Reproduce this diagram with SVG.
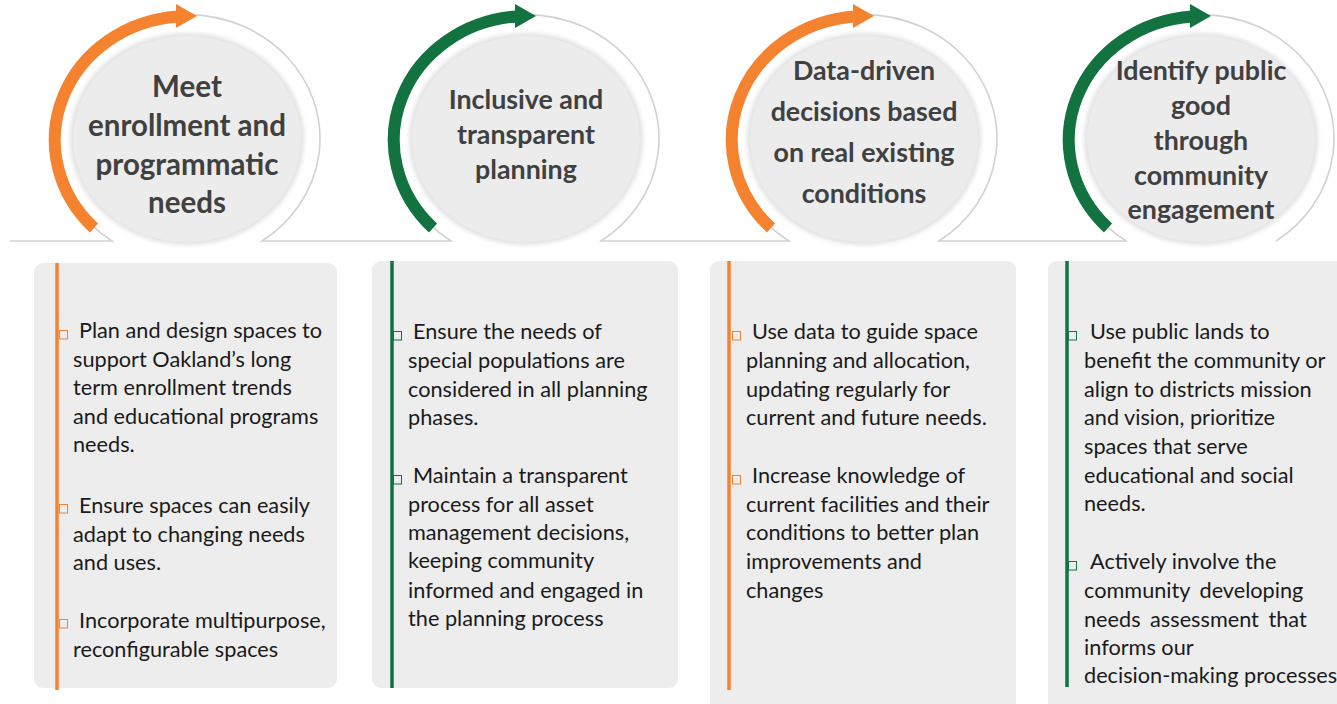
<svg xmlns="http://www.w3.org/2000/svg" width="1337" height="704" viewBox="0 0 1337 704">
<style>
.ring{fill:none;stroke:#d2d2d2;stroke-width:1.6}
.fillc{fill:#ececec}
.title{font-family:Lato,"Open Sans",sans-serif;font-weight:bold;fill:#404040;text-anchor:middle}
.box{fill:#ededed}
.body{font-family:Lato,"Open Sans",sans-serif;font-size:21.7px;fill:#1a1a1a}
.arcO{fill:none;stroke:#F5822F;stroke-width:12}
.arcG{fill:none;stroke:#127340;stroke-width:12}
.bO{fill:none;stroke:#F5822F;stroke-width:1}
.bG{fill:none;stroke:#127340;stroke-width:1}
</style>
<defs>
<filter id="soft" x="-10%" y="-10%" width="120%" height="120%">
<feGaussianBlur stdDeviation="2"/>
</filter>
</defs>
<rect width="1337" height="704" fill="#ffffff"/>

<g id="connectors">
<path class="ring" d="M10 241 H112 A133 124 0 1 1 262 241 H451 A133 124 0 1 1 601 241 H789 A133 124 0 1 1 939 241 H1126 A133 124 0 1 1 1276 241"/>
</g>

<g id="node1">
<ellipse cx="187" cy="139" rx="117" ry="106" fill="#e2e2e2" filter="url(#soft)"/>
<ellipse class="fillc" cx="187" cy="139" rx="114" ry="103"/>
<path class="arcO" d="M94 228 A133 124 0 0 1 178 16.4"/>
<polygon points="176,4 197,16 176,28" fill="#F5822F"/>
<text class="title" font-size="29.5"><tspan x="187" y="97">Meet</tspan><tspan x="187" y="136">enrollment and</tspan><tspan x="187" y="175">programmatic</tspan><tspan x="187" y="213">needs</tspan></text>
</g>

<g id="node2">
<ellipse cx="526" cy="139" rx="117" ry="106" fill="#e2e2e2" filter="url(#soft)"/>
<ellipse class="fillc" cx="526" cy="139" rx="114" ry="103"/>
<path class="arcG" d="M433 228 A133 124 0 0 1 517 16.4"/>
<polygon points="515,4 536,16 515,28" fill="#127340"/>
<text class="title" font-size="26.8"><tspan x="526" y="109">Inclusive and</tspan><tspan x="526" y="144">transparent</tspan><tspan x="526" y="179">planning</tspan></text>
</g>

<g id="node3">
<ellipse cx="864" cy="139" rx="117" ry="106" fill="#e2e2e2" filter="url(#soft)"/>
<ellipse class="fillc" cx="864" cy="139" rx="114" ry="103"/>
<path class="arcO" d="M771 228 A133 124 0 0 1 855 16.4"/>
<polygon points="853,4 874,16 853,28" fill="#F5822F"/>
<text class="title" font-size="26.8"><tspan x="864" y="80">Data-driven</tspan><tspan x="864" y="121">decisions based</tspan><tspan x="864" y="162">on real existing</tspan><tspan x="864" y="203">conditions</tspan></text>
</g>

<g id="node4">
<ellipse cx="1201" cy="139" rx="117" ry="106" fill="#e2e2e2" filter="url(#soft)"/>
<ellipse class="fillc" cx="1201" cy="139" rx="114" ry="103"/>
<path class="arcG" d="M1108 228 A133 124 0 0 1 1192 16.4"/>
<polygon points="1190,4 1211,16 1190,28" fill="#127340"/>
<text class="title" font-size="26.8"><tspan x="1201" y="80">Identify public</tspan><tspan x="1201" y="115">good</tspan><tspan x="1201" y="150">through</tspan><tspan x="1201" y="185">community</tspan><tspan x="1201" y="219">engagement</tspan></text>
</g>

<g id="box1">
<rect class="box" x="34" y="263" width="303" height="425" rx="9"/>
<line x1="57" y1="263" x2="57" y2="690" stroke="#F5822F" stroke-width="3.5"/>
<rect class="bO" x="59.5" y="330.5" width="8" height="8.5"/>
<rect class="bO" x="59.5" y="504.5" width="8" height="8.5"/>
<rect class="bO" x="59.5" y="619.5" width="8" height="8.5"/>
<text class="body"><tspan x="79" y="338">Plan and design spaces to</tspan><tspan x="73" y="367">support Oakland’s long</tspan><tspan x="73" y="395">term enrollment trends</tspan><tspan x="73" y="424">and educational programs</tspan><tspan x="73" y="452">needs.</tspan><tspan x="79" y="513">Ensure spaces can easily</tspan><tspan x="73" y="542">adapt to changing needs</tspan><tspan x="73" y="570">and uses.</tspan><tspan x="79" y="628">Incorporate multipurpose,</tspan><tspan x="73" y="657">reconfigurable spaces</tspan></text>
</g>

<g id="box2">
<rect class="box" x="372" y="261" width="306" height="427" rx="9"/>
<line x1="392" y1="261" x2="392" y2="688" stroke="#127340" stroke-width="3.5"/>
<rect class="bG" x="393.5" y="331.5" width="8" height="8.5"/>
<rect class="bG" x="393.5" y="475.5" width="8" height="8.5"/>
<text class="body"><tspan x="413" y="339">Ensure the needs of</tspan><tspan x="408" y="368">special populations are</tspan><tspan x="408" y="397">considered in all planning</tspan><tspan x="408" y="425">phases.</tspan><tspan x="413" y="483">Maintain a transparent</tspan><tspan x="408" y="512">process for all asset</tspan><tspan x="408" y="540">management decisions,</tspan><tspan x="408" y="568">keeping community</tspan><tspan x="408" y="598">informed and engaged in</tspan><tspan x="408" y="626">the planning process</tspan></text>
</g>

<g id="box3">
<rect class="box" x="710" y="261" width="306" height="460" rx="9"/>
<line x1="729" y1="261" x2="729" y2="690" stroke="#F5822F" stroke-width="3.5"/>
<rect class="bO" x="732.5" y="331.5" width="8" height="8.5"/>
<rect class="bO" x="732.5" y="475.5" width="8" height="8.5"/>
<text class="body"><tspan x="752" y="339">Use data to guide space</tspan><tspan x="746" y="368">planning and allocation,</tspan><tspan x="746" y="397">updating regularly for</tspan><tspan x="746" y="425">current and future needs.</tspan><tspan x="752" y="483">Increase knowledge of</tspan><tspan x="746" y="512">current facilities and their</tspan><tspan x="746" y="540">conditions to better plan</tspan><tspan x="746" y="569">improvements and</tspan><tspan x="746" y="598">changes</tspan></text>
</g>

<g id="box4">
<rect class="box" x="1048" y="261" width="310" height="460" rx="9"/>
<line x1="1067" y1="261" x2="1067" y2="687" stroke="#127340" stroke-width="3.5"/>
<rect class="bG" x="1068.5" y="331.5" width="8" height="8.5"/>
<rect class="bG" x="1068.5" y="561.5" width="8" height="8.5"/>
<text class="body"><tspan x="1090" y="339">Use public lands to</tspan><tspan x="1084" y="368">benefit the community or</tspan><tspan x="1084" y="397">align to districts mission</tspan><tspan x="1084" y="425">and vision, prioritize</tspan><tspan x="1084" y="454">spaces that serve</tspan><tspan x="1084" y="483">educational and social</tspan><tspan x="1084" y="511">needs.</tspan><tspan x="1090" y="569">Actively involve the</tspan><tspan x="1084" y="598" word-spacing="4">community developing</tspan><tspan x="1084" y="627" word-spacing="4">needs assessment that</tspan><tspan x="1084" y="655">informs our</tspan><tspan x="1084" y="683">decision-making processes</tspan></text>
</g>
</svg>
